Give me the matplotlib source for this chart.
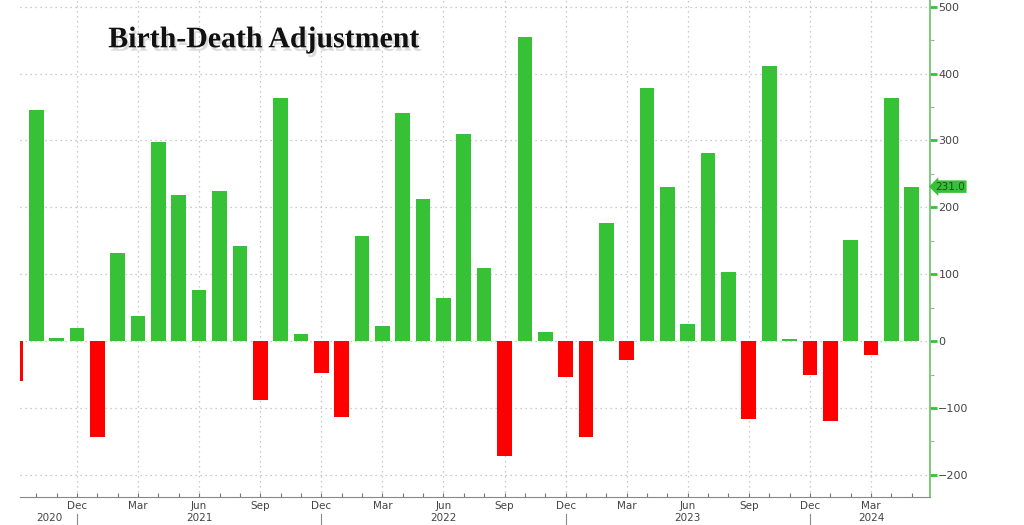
import numpy as np
import pandas as pd
import matplotlib
matplotlib.use('Agg')
import matplotlib.pyplot as plt
import matplotlib.patheffects as pe
from matplotlib.transforms import blended_transform_factory

# monthly birth-death adjustment (thousands), Sep 2020 .. May 2024
months = pd.date_range('2020-09-01', periods=45, freq='MS')
values = [-60, 345, 5, 20,
          -143, 132, 38, 298, 218, 77, 225, 142, -88, 364, 11, -48,
          -113, 157, 23, 341, 213, 64, 309, 109, -171, 455, 14, -54,
          -144, 177, -28, 378, 231, 26, 281, 103, -117, 412, 3, -51,
          -120, 151, -20, 364, 231]
y_ticks = [-200, -100, 0, 100, 200, 300, 400, 500]
last_label = '231.0'

GREEN = '#36c136'
RED = '#ff0000'
TXT = '#444444'

fig = plt.figure(figsize=(10.24, 5.25), dpi=100)
ax = fig.add_axes([20 / 1024, 28 / 525, 910 / 1024, 497 / 525])

x = np.arange(len(values))
colors = [GREEN if v >= 0 else RED for v in values]
ax.bar(x, values, width=0.72, color=colors, zorder=3)

# grid
for yv in y_ticks:
    ax.axhline(yv, color='#bbbbbb', lw=0.9, ls=(0, (1, 3)), zorder=1)
quarter_idx = [i for i, m in enumerate(months) if m.month in (3, 6, 9, 12) and i > 0]
for i in quarter_idx:
    ax.axvline(i, color='#bbbbbb', lw=0.9, ls=(0, (1, 3)), zorder=1)

# spines
for s in ['top', 'left']:
    ax.spines[s].set_visible(False)
ax.spines['bottom'].set_color('#888888')
ax.spines['right'].set_color('#66c266')
ax.spines['right'].set_linewidth(1.2)

# right axis
ax.yaxis.tick_right()
ax.set_yticks(y_ticks)
ax.set_yticks(np.arange(-150, 500, 100), minor=True)
ax.tick_params(axis='y', which='major', colors=GREEN, length=5, width=2,
               labelcolor=TXT, labelsize=8, pad=1)
ax.tick_params(axis='y', which='minor', colors='#aaaaaa', length=3, width=0.8)

# bottom axis
ax.set_xticks(quarter_idx)
ax.set_xticklabels([months[i].strftime('%b') for i in quarter_idx])
ax.set_xticks(x, minor=True)
ax.tick_params(axis='x', which='both', direction='in', length=3, width=0.8,
               colors='#777777', labelcolor=TXT, labelsize=7.5, pad=3)

ax.set_xlim(0.2, 44.9)
ax.set_ylim(-233, 510)

trans = blended_transform_factory(ax.transData, ax.transAxes)
years = ['2020', '2021', '2022', '2023', '2024']
year_pos = [1.65, 9, 21, 33, 42]
for lab, xp in zip(years, year_pos):
    ax.text(xp, -0.042, lab, transform=trans, ha='center', va='center',
            fontsize=7.5, color=TXT)
for i, m in enumerate(months):
    if m.month == 12:
        ax.plot([i, i], [-0.035, -0.06], transform=trans, color='#888888',
                lw=0.8, clip_on=False)

# last value label
ax.annotate(last_label, xy=(1.0, values[-1]), xycoords=('axes fraction', 'data'),
            xytext=(4, 0), textcoords='offset points', va='center', ha='left',
            fontsize=7.5, color='#1f4d1f',
            bbox=dict(boxstyle='larrow,pad=0.12', fc=GREEN, ec='none'))

# title
ax.text(0.097, 0.92, 'Birth-Death Adjustment', transform=ax.transAxes,
        fontsize=21.5, fontweight='bold', family='Liberation Serif', color='#111111',
        va='center', ha='left', zorder=5,
        path_effects=[pe.SimplePatchShadow(offset=(1.5, -2.5), shadow_rgbFace='#999999',
                                           alpha=0.35), pe.Normal()])

fig.savefig('out.png', dpi=100, facecolor='white')
